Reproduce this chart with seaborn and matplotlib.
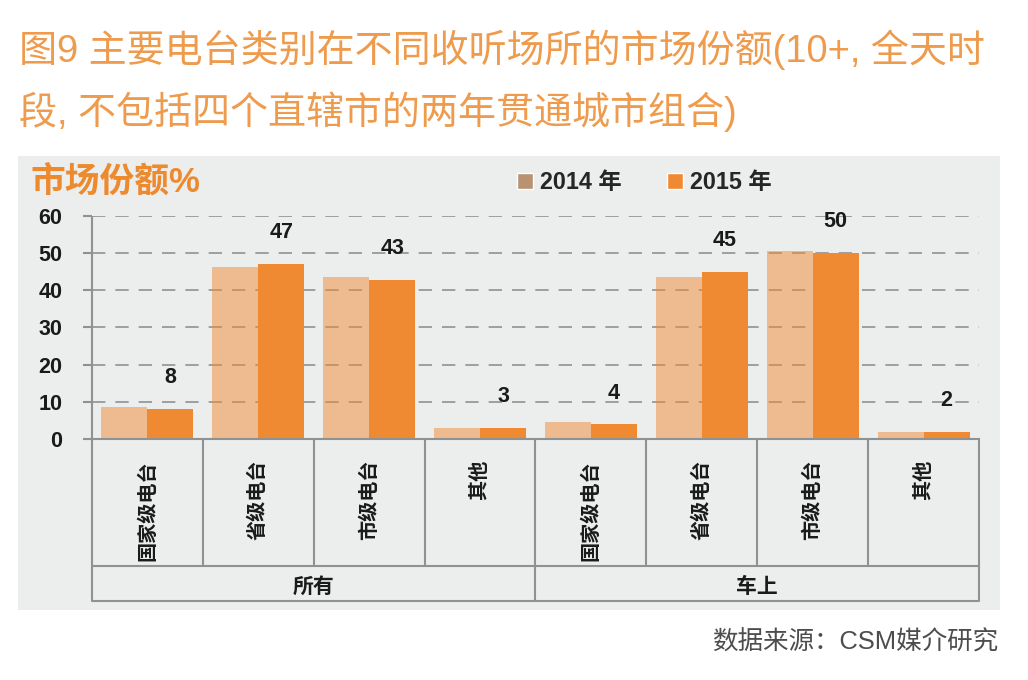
import matplotlib
matplotlib.use('Agg')
import matplotlib.pyplot as plt
import matplotlib.transforms as mtransforms
from matplotlib.patches import Patch, Rectangle
import pandas as pd
import seaborn as sns

groups = ['所有', '车上']
stations = ['国家级电台', '省级电台', '市级电台', '其他']
years = ['2014 年', '2015 年']
values_2014 = [8.5, 46.1, 43.4, 2.9, 4.7, 43.6, 50.4, 1.9]
values_2015 = [8.0, 47.0, 42.8, 2.9, 3.9, 44.9, 49.9, 1.9]

title_lines = ['图9 主要电台类别在不同收听场所的市场份额(10+, 全天时',
               '段, 不包括四个直辖市的两年贯通城市组合)']
y_label = '市场份额%'
source = '数据来源：CSM媒介研究'

slots = [f'{g}-{s}' for g in groups for s in stations]
df = pd.DataFrame({
    'slot': slots * 2,
    'year': [years[0]] * len(slots) + [years[1]] * len(slots),
    'share': values_2014 + values_2015,
})

sns.set_theme(style='white')
plt.rcParams['font.family'] = ['Liberation Sans', 'Noto Sans CJK SC', 'DejaVu Sans']

orange = '#EF8A33'
line_grey = '#8E9292'
ink = '#1A1A1A'

fig = plt.figure(figsize=(10.28, 6.8), dpi=100)
panel = Rectangle((0.0175, 0.103), 0.955, 0.668, transform=fig.transFigure,
                  facecolor='#ECEDED', edgecolor='none', zorder=-10)
fig.add_artist(panel)
ax = fig.add_axes([0.0895, 0.3544, 0.8628, 0.3284])
ax.set_zorder(1)
ax.patch.set_visible(False)

sns.barplot(data=df, x='slot', y='share', hue='year', order=slots, hue_order=years,
            palette=[orange, orange], width=0.83, gap=0, saturation=1,
            errorbar=None, linewidth=0, ax=ax, zorder=2)

# 2014 bars are a see-through version of the same orange
for bar in ax.containers[0]:
    bar.set_alpha(0.5)
ax.bar_label(ax.containers[1], fmt='%.0f', padding=15, fontsize=15.5,
             fontweight='bold', color=ink)

ax.set_xlim(-0.5, len(slots) - 0.5)
ax.set_ylim(0, 60)
ax.set_yticks(range(0, 61, 10))
ax.yaxis.grid(True, color=line_grey, linestyle=(0, (8, 6)), linewidth=1.2)
ax.set_axisbelow(True)
ax.tick_params(axis='y', length=6.5, width=1.5, color=line_grey, pad=15,
               labelsize=15.5, labelcolor=ink, left=True)
for lab in ax.get_yticklabels():
    lab.set_fontweight('bold')
ax.tick_params(axis='x', length=0, labelbottom=False)
ax.set_xlabel('')
ax.set_ylabel('')
for side in ['top', 'right', 'left']:
    ax.spines[side].set_visible(False)
ax.spines['bottom'].set_color(line_grey)
ax.spines['bottom'].set_linewidth(1.5)

# category table below the axis
trans = mtransforms.blended_transform_factory(ax.transData, ax.transAxes)
row_y = -0.569
bottom_y = -0.7255
for i in range(len(slots) + 1):
    x = i - 0.5
    y_end = bottom_y if i % len(stations) == 0 else row_y
    top = 1.0 if i == 0 else 0.0
    ax.plot([x, x], [top, y_end], color=line_grey, lw=1.5, transform=trans,
            clip_on=False, solid_capstyle='butt')
for y in [row_y, bottom_y]:
    ax.plot([-0.5, len(slots) - 0.5], [y, y], color=line_grey, lw=1.5,
            transform=trans, clip_on=False)

for i, slot in enumerate(slots):
    ax.text(i, -0.094, stations[i % len(stations)], rotation=90, ha='center', va='top',
            fontsize=14.5, fontweight='bold', color=ink, transform=trans)
for j, g in enumerate(groups):
    center = j * len(stations) + (len(stations) - 1) / 2
    ax.text(center, -0.663, g, ha='center', va='center', fontsize=15,
            fontweight='bold', color=ink, transform=trans)

ax.get_legend().remove()
handles = [Patch(facecolor='#B99272'), Patch(facecolor=orange)]
fig.legend(handles=handles, labels=years, ncol=2, loc='center left',
           bbox_to_anchor=(0.503, 1 - 183 / 680), frameon=False,
           prop={'size': 16.8, 'weight': 'bold'},
           handlelength=0.7, handleheight=0.7, handletextpad=0.3,
           columnspacing=1.9, borderpad=0, borderaxespad=0)

fig.text(30 / 1028, 1 - 182 / 680, y_label, fontsize=25, fontweight='bold',
         color='#EE8A2E', va='center', ha='left')
fig.text(19 / 1028, 1 - 50 / 680, title_lines[0], fontsize=27.4, color='#EE9B4E',
         va='center', ha='left')
fig.text(19 / 1028, 1 - 112 / 680, title_lines[1], fontsize=27.4, color='#EE9B4E',
         va='center', ha='left')
fig.text(998 / 1028, 1 - 642 / 680, source, fontsize=18.4, color='#4D4D4D',
         va='center', ha='right')

fig.savefig('out.png', dpi=100)
